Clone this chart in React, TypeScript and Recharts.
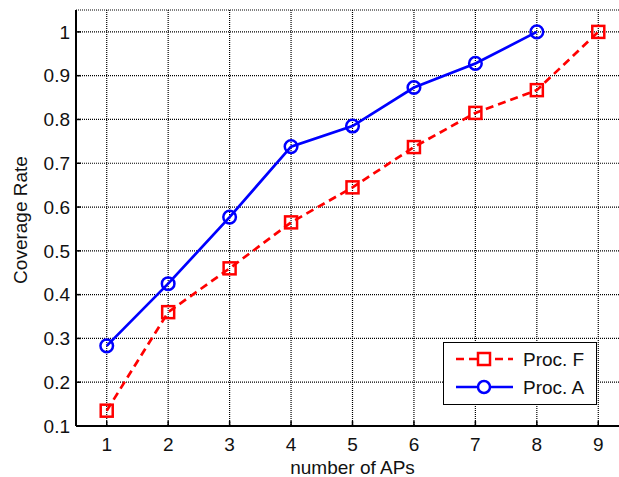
import React from 'react';
import { LineChart, Line, XAxis, YAxis, CartesianGrid, Legend } from 'recharts';

const apCounts = [1, 2, 3, 4, 5, 6, 7, 8, 9];
const procF = [0.135, 0.36, 0.46, 0.565, 0.645, 0.737, 0.815, 0.867, 1.0];
const procA = [0.283, 0.425, 0.577, 0.738, 0.785, 0.873, 0.928, 1.0, null];
const xTicks = [1, 2, 3, 4, 5, 6, 7, 8, 9];
const yTicks = [0.1, 0.2, 0.3, 0.4, 0.5, 0.6, 0.7, 0.8, 0.9, 1];
const seriesNames = ['Proc. F', 'Proc. A'];
const seriesColors = ['#ff0000', '#0000ff'];

const data = apCounts.map((n, i) => ({ n, f: procF[i], a: procA[i] }));

const FONT = '"Liberation Sans", Arial, sans-serif';

const SquareDot = (props: any) => {
  const { cx, cy, index } = props;
  if (cx == null || cy == null) return <g key={`s${index}`} />;
  return (
    <rect key={`s${index}`} x={cx - 6} y={cy - 6} width={12} height={12} fill="none" stroke={seriesColors[0]} strokeWidth={2.5} />
  );
};

const CircleDot = (props: any) => {
  const { cx, cy, index } = props;
  if (cx == null || cy == null) return <g key={`c${index}`} />;
  return <circle key={`c${index}`} cx={cx} cy={cy} r={6.3} fill="none" stroke={seriesColors[1]} strokeWidth={2.5} />;
};

const LegendBox = () => (
  <div style={{ width: 154, height: 63, boxSizing: 'border-box', border: '1.5px solid #000', background: '#fff' }}>
    <svg width={151} height={60} style={{ display: 'block' }}>
      {seriesNames.map((name, i) => {
        const y = 16 + i * 28;
        return (
          <g key={name}>
            <line x1={12} x2={69} y1={y} y2={y} stroke={seriesColors[i]} strokeWidth={2.5} strokeDasharray={i === 0 ? '8 5' : undefined} />
            {i === 0 ? (
              <rect x={34} y={y - 6} width={12} height={12} fill="#fff" stroke={seriesColors[i]} strokeWidth={2.5} />
            ) : (
              <circle cx={40} cy={y} r={6} fill="#fff" stroke={seriesColors[i]} strokeWidth={2.5} />
            )}
            <text x={79} y={y} dominantBaseline="central" fontFamily={FONT} fontSize={19} fill="#111">
              {name}
            </text>
          </g>
        );
      })}
    </svg>
  </div>
);

export default function App() {
  return (
    <div style={{ position: 'absolute', left: 0, top: 0, width: 619, height: 477, overflow: 'hidden', background: '#fff' }}>
      <LineChart width={640} height={477} data={data} margin={{ top: 10, right: 11, bottom: 0, left: 0 }}>
        <CartesianGrid stroke="#000" strokeDasharray="1 1" strokeWidth={1.2} />
        <XAxis
          dataKey="n"
          type="number"
          domain={[0.5, 9.5]}
          ticks={xTicks}
          height={51}
          axisLine={{ stroke: '#000', strokeWidth: 2 }}
          tickLine={{ stroke: '#000', strokeWidth: 1.5 }}
          tickSize={-5}
          tickMargin={17}
          tick={{ fill: '#111', fontSize: 19, fontFamily: FONT }}
          label={{
            content: (p: any) => {
              const vb = p.viewBox || {};
              return (
                <text x={vb.x + vb.width / 2} y={vb.y + vb.height - 3} textAnchor="middle" fontFamily={FONT} fontSize={19} fill="#111">
                  number of APs
                </text>
              );
            },
          }}
        />
        <XAxis
          xAxisId="top"
          dataKey="n"
          type="number"
          orientation="top"
          domain={[0.5, 9.5]}
          ticks={xTicks}
          height={0}
          mirror
          tick={false}
          axisLine={{ stroke: '#000', strokeWidth: 2 }}
          tickLine={{ stroke: '#000', strokeWidth: 1.5 }}
          tickSize={5}
        />
        <YAxis
          type="number"
          domain={[0.1, 1.05]}
          ticks={yTicks}
          width={76}
          allowDataOverflow
          axisLine={{ stroke: '#000', strokeWidth: 2 }}
          tickLine={{ stroke: '#000', strokeWidth: 1.5 }}
          tickSize={-5}
          tickMargin={11}
          tick={{ fill: '#111', fontSize: 19, fontFamily: FONT }}
          label={{
            content: (p: any) => {
              const vb = p.viewBox || {};
              const x = vb.x + 27;
              const y = vb.y + vb.height / 2 + 2;
              return (
                <text x={x} y={y} transform={`rotate(-90 ${x} ${y})`} textAnchor="middle" fontFamily={FONT} fontSize={19} fill="#111">
                  Coverage Rate
                </text>
              );
            },
          }}
        />
        <Line
          dataKey="f"
          name={seriesNames[0]}
          stroke={seriesColors[0]}
          strokeWidth={2.7}
          strokeDasharray="8 5"
          dot={SquareDot}
          activeDot={false}
          isAnimationActive={false}
        />
        <Line
          dataKey="a"
          name={seriesNames[1]}
          stroke={seriesColors[1]}
          strokeWidth={2.7}
          dot={CircleDot}
          activeDot={false}
          isAnimationActive={false}
        />
        <Legend
          layout="horizontal"
          align="center"
          verticalAlign="middle"
          content={() => <LegendBox />}
          wrapperStyle={{ position: 'absolute', left: 443, top: 342, width: 154, height: 63, bottom: 'auto', right: 'auto', margin: 0 }}
        />
      </LineChart>
    </div>
  );
}
